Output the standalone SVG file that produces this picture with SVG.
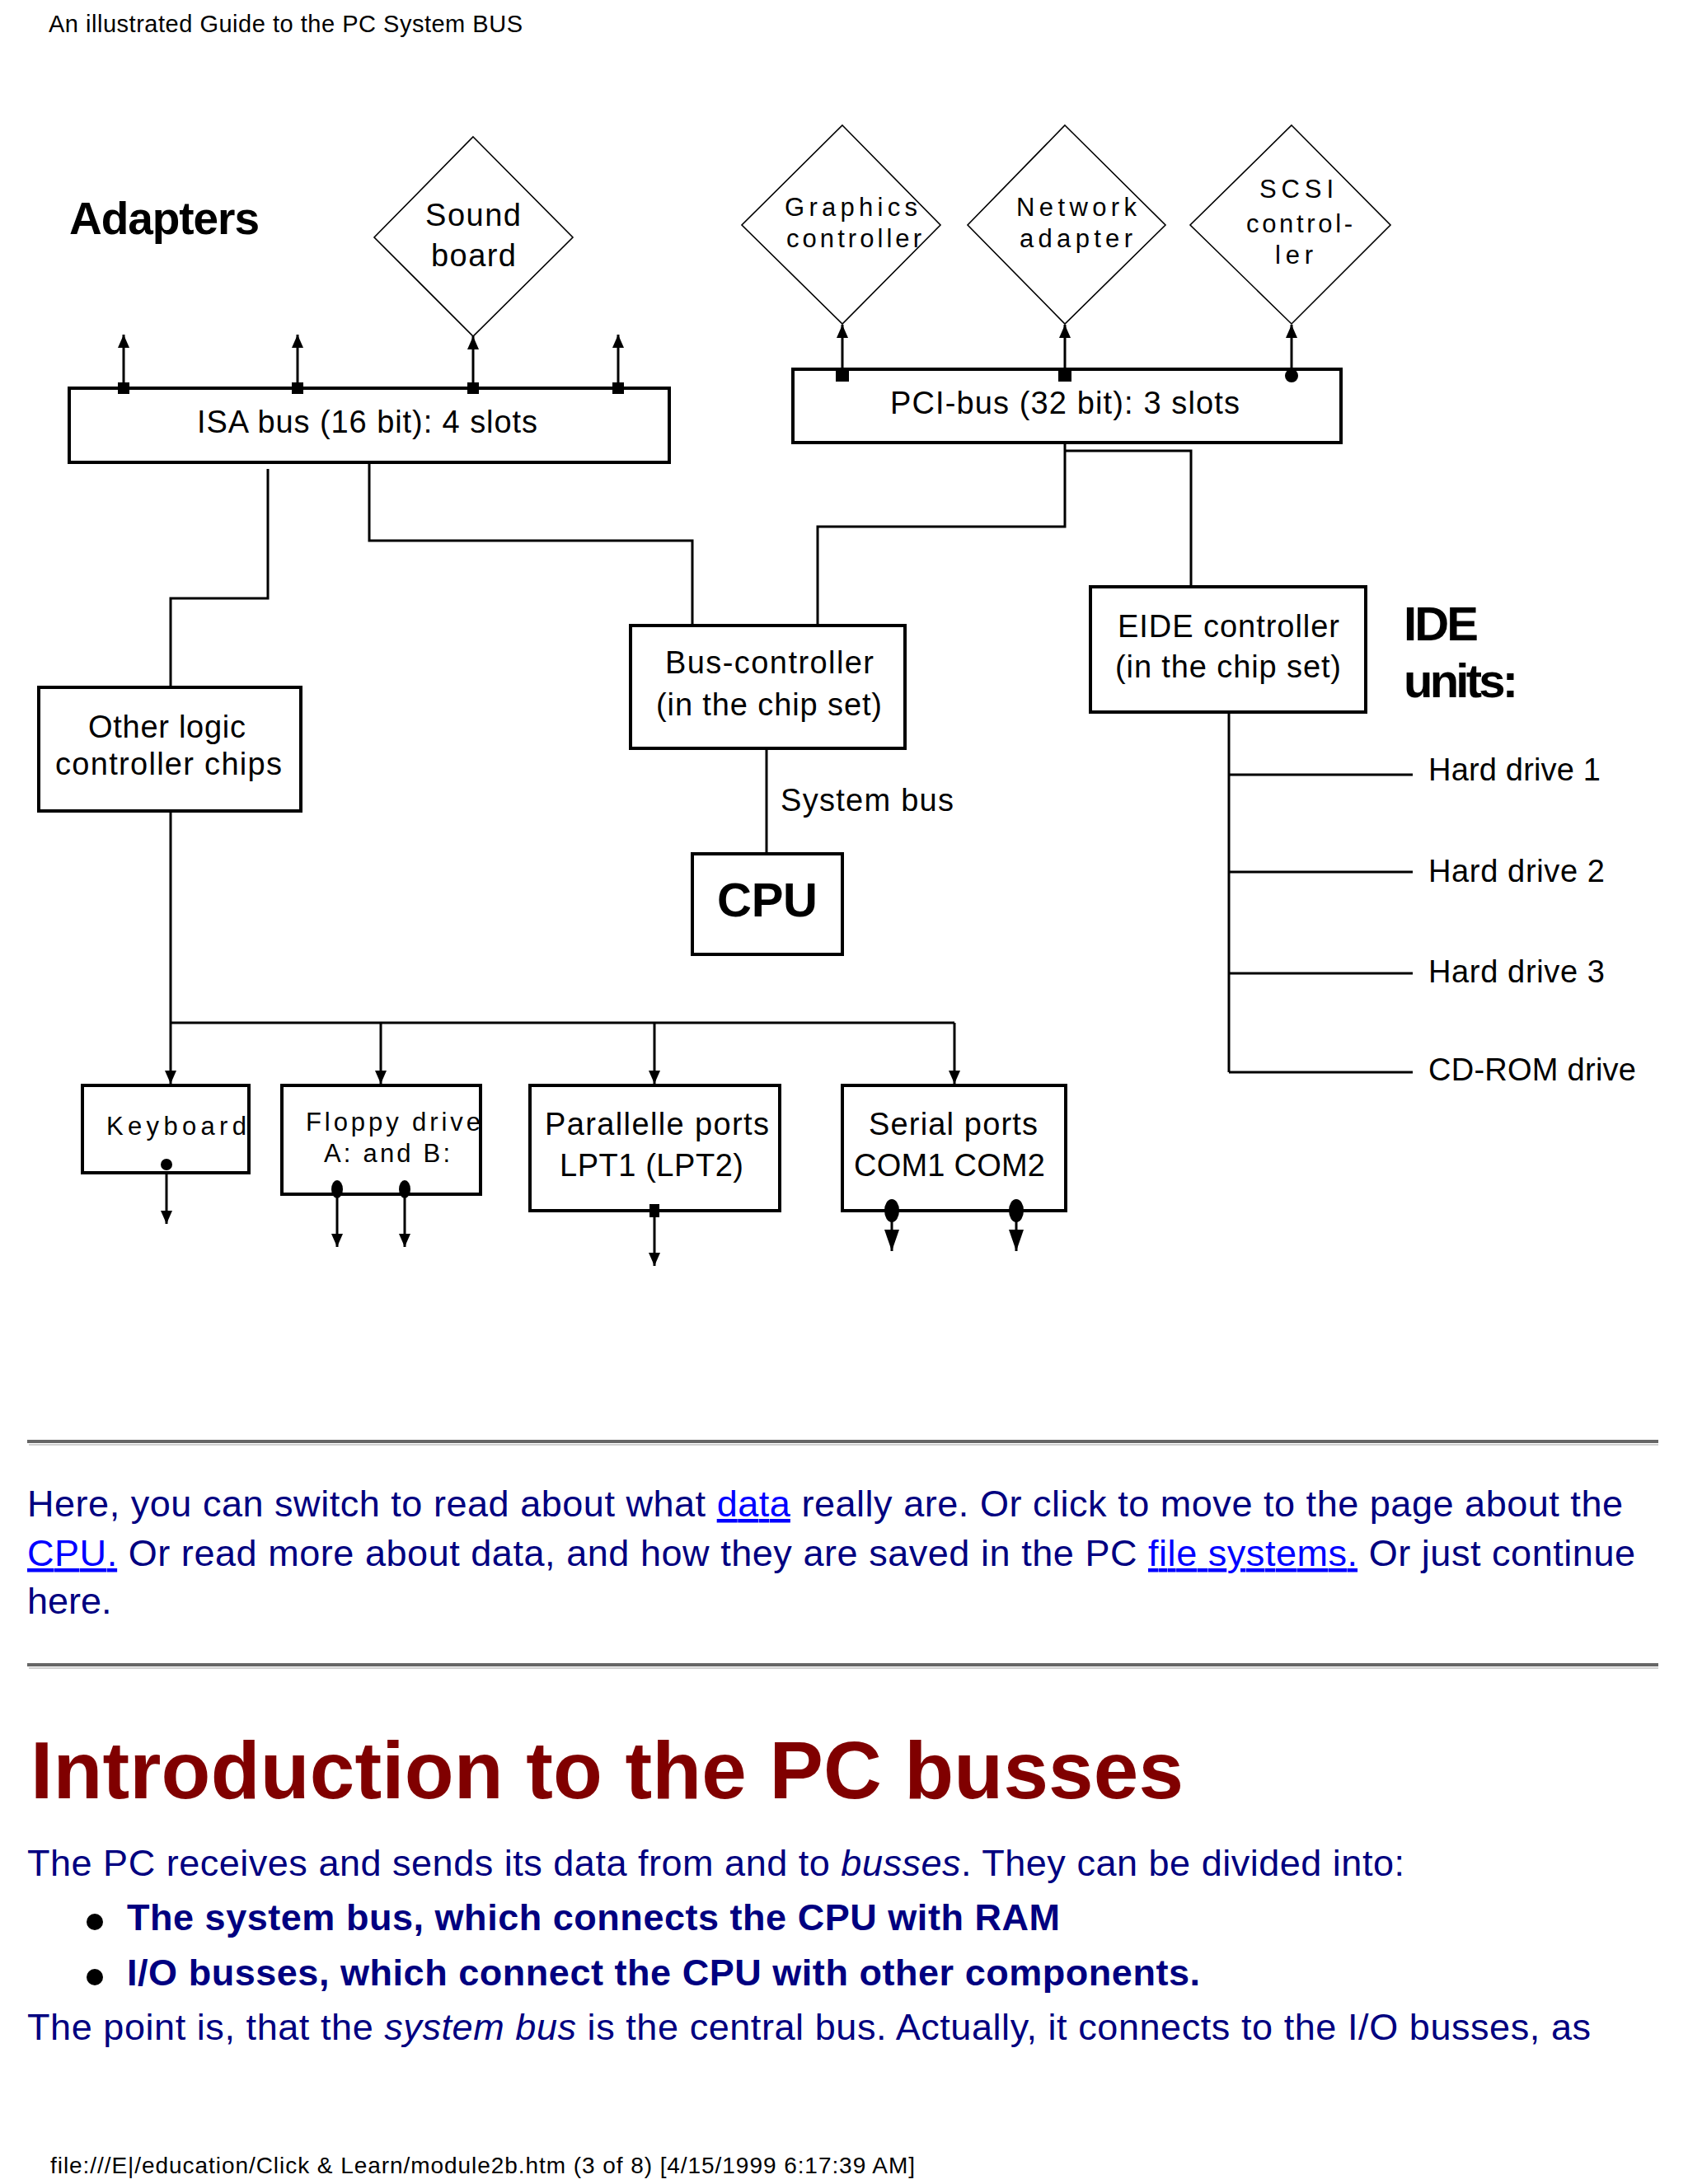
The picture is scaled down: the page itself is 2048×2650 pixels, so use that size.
<svg xmlns="http://www.w3.org/2000/svg" width="2048" height="2650" viewBox="0 0 2048 2650">
<style>
.t{font-family:"Liberation Sans",Arial,sans-serif;fill:#000}
.m{font-size:38px}
.s{font-size:31px}
.b{font-weight:bold}
.box{fill:#fff;stroke:#000;stroke-width:4}
.dia{fill:#fff;stroke:#000;stroke-width:1.6}
.ln{fill:none;stroke:#000;stroke-width:3}
.body{font-family:"Liberation Sans",Arial,sans-serif;font-size:45px;fill:#000080}
.lnk{fill:#0000ff;text-decoration:underline}
.rule{stroke:#666;stroke-width:4}
.rule2{stroke:#d0d0d0;stroke-width:2}
</style>
<defs>
<marker id="arr" viewBox="0 0 16 14" refX="16" refY="7" markerWidth="16" markerHeight="14" markerUnits="userSpaceOnUse" orient="auto"><path d="M0,0 L16,7 L0,14 z" fill="#000"/></marker>
<marker id="arrL" viewBox="0 0 26 18" refX="26" refY="9" markerWidth="26" markerHeight="18" markerUnits="userSpaceOnUse" orient="auto"><path d="M0,0 L26,9 L0,18 z" fill="#000"/></marker>
</defs>
<rect x="0" y="0" width="2048" height="2650" fill="#fff"/>

<text class="t" x="59" y="39" font-size="29" textLength="575">An illustrated Guide to the PC System BUS</text>
<text class="t b" x="84" y="284" font-size="55" textLength="231">Adapters</text>

<g id="connectors">
<line class="ln" x1="150" y1="471" x2="150" y2="406" marker-end="url(#arr)"/>
<line class="ln" x1="361" y1="471" x2="361" y2="406" marker-end="url(#arr)"/>
<line class="ln" x1="574" y1="471" x2="574" y2="408" marker-end="url(#arr)"/>
<line class="ln" x1="750" y1="471" x2="750" y2="406" marker-end="url(#arr)"/>
<line class="ln" x1="1022" y1="455" x2="1022" y2="394" marker-end="url(#arr)"/>
<line class="ln" x1="1292" y1="455" x2="1292" y2="394" marker-end="url(#arr)"/>
<line class="ln" x1="1567" y1="455" x2="1567" y2="394" marker-end="url(#arr)"/>
<polyline class="ln" points="325,569 325,726 207,726 207,834"/>
<polyline class="ln" points="448,561 448,656 840,656 840,759"/>
<polyline class="ln" points="1292,537 1292,639 992,639 992,759"/>
<polyline class="ln" points="1292,547 1445,547 1445,712"/>
<line class="ln" x1="930" y1="908" x2="930" y2="1036"/>
<line class="ln" x1="1491" y1="864" x2="1491" y2="1301"/>
<line class="ln" x1="1491" y1="940" x2="1714" y2="940"/>
<line class="ln" x1="1491" y1="1058" x2="1714" y2="1058"/>
<line class="ln" x1="1491" y1="1181" x2="1714" y2="1181"/>
<line class="ln" x1="1491" y1="1301" x2="1714" y2="1301"/>
<line class="ln" x1="207" y1="984" x2="207" y2="1241"/>
<line class="ln" x1="207" y1="1241" x2="1158" y2="1241" stroke-width="4"/>
<line class="ln" x1="207" y1="1241" x2="207" y2="1315" marker-end="url(#arr)"/>
<line class="ln" x1="462" y1="1241" x2="462" y2="1315" marker-end="url(#arr)"/>
<line class="ln" x1="794" y1="1241" x2="794" y2="1315" marker-end="url(#arr)"/>
<line class="ln" x1="1158" y1="1241" x2="1158" y2="1315" marker-end="url(#arr)"/>
<line class="ln" x1="202" y1="1413" x2="202" y2="1485" marker-end="url(#arr)"/>
<line class="ln" x1="409" y1="1443" x2="409" y2="1513" marker-end="url(#arr)"/>
<line class="ln" x1="491" y1="1443" x2="491" y2="1513" marker-end="url(#arr)"/>
<line class="ln" x1="794" y1="1469" x2="794" y2="1536" marker-end="url(#arr)"/>
<line class="ln" x1="1082" y1="1469" x2="1082" y2="1518" marker-end="url(#arrL)"/>
<line class="ln" x1="1233" y1="1469" x2="1233" y2="1518" marker-end="url(#arrL)"/>
</g>

<g id="sound-board">
<polygon class="dia" points="574,166 695,288 574,408 454,288"/>
<text class="t m" x="516" y="274" textLength="116">Sound</text>
<text class="t m" x="523" y="323" textLength="103">board</text>
</g>

<g id="isa-bus">
<rect class="box" x="84" y="471" width="728" height="90"/>
<rect x="143" y="464" width="14" height="14"/>
<rect x="354" y="464" width="14" height="14"/>
<rect x="567" y="464" width="14" height="14"/>
<rect x="743" y="464" width="14" height="14"/>
<text class="t m" x="239" y="525" textLength="413">ISA bus (16 bit): 4 slots</text>
</g>

<g id="graphics-controller">
<polygon class="dia" points="1022,152 1141,273 1022,393 900,273"/>
<text class="t s" x="952" y="262" textLength="161">Graphics</text>
<text class="t s" x="954" y="300" textLength="164">controller</text>
</g>
<g id="network-adapter">
<polygon class="dia" points="1292,152 1414,273 1292,393 1174,273"/>
<text class="t s" x="1233" y="262" textLength="146">Network</text>
<text class="t s" x="1237" y="300" textLength="137">adapter</text>
</g>
<g id="scsi-controller">
<polygon class="dia" points="1567,152 1687,273 1567,393 1444,273"/>
<text class="t s" x="1528" y="240" textLength="90">SCSI</text>
<text class="t s" x="1512" y="282" textLength="129">control-</text>
<text class="t s" x="1547" y="320" textLength="46">ler</text>
</g>

<g id="pci-bus">
<rect class="box" x="962" y="448" width="665" height="89"/>
<rect x="1014" y="448" width="16" height="15"/>
<rect x="1284" y="448" width="16" height="15"/>
<circle cx="1567" cy="456" r="8"/>
<text class="t m" x="1080" y="502" textLength="424">PCI-bus (32 bit): 3 slots</text>
</g>

<g id="other-logic">
<rect class="box" x="47" y="834" width="318" height="150"/>
<text class="t m" x="107" y="895" textLength="191">Other logic</text>
<text class="t m" x="67" y="940" textLength="275">controller chips</text>
</g>

<g id="bus-controller">
<rect class="box" x="765" y="759" width="333" height="149"/>
<text class="t m" x="807" y="817" textLength="253">Bus-controller</text>
<text class="t m" x="796" y="868" textLength="274">(in the chip set)</text>
</g>

<text class="t m" x="947" y="984" textLength="210">System bus</text>

<g id="cpu">
<rect class="box" x="840" y="1036" width="182" height="122"/>
<text class="t b" x="870" y="1112" font-size="58" textLength="122">CPU</text>
</g>

<g id="eide-controller">
<rect class="box" x="1323" y="712" width="334" height="152"/>
<text class="t m" x="1356" y="773" textLength="269">EIDE controller</text>
<text class="t m" x="1353" y="822" textLength="274">(in the chip set)</text>
</g>

<text class="t b" x="1703" y="777" font-size="58" textLength="91">IDE</text>
<text class="t b" x="1703" y="846" font-size="58" textLength="139">units:</text>

<g id="hard-drive-1"><text class="t m" x="1733" y="947" textLength="209">Hard drive 1</text></g>
<g id="hard-drive-2"><text class="t m" x="1733" y="1070" textLength="214">Hard drive 2</text></g>
<g id="hard-drive-3"><text class="t m" x="1733" y="1192" textLength="214">Hard drive 3</text></g>
<g id="cd-rom-drive"><text class="t m" x="1733" y="1311" textLength="252">CD-ROM drive</text></g>

<g id="keyboard">
<rect class="box" x="100" y="1317" width="202" height="106"/>
<circle cx="202" cy="1413" r="7"/>
<text class="t s" x="129" y="1377" textLength="170">Keyboard</text>
</g>

<g id="floppy-drive">
<rect class="box" x="342" y="1317" width="241" height="132"/>
<ellipse cx="409" cy="1443" rx="7" ry="11"/>
<ellipse cx="491" cy="1443" rx="7" ry="11"/>
<text class="t s" x="371" y="1372" textLength="212">Floppy drive</text>
<text class="t s" x="393" y="1410" textLength="153">A: and B:</text>
</g>

<g id="parallel-ports">
<rect class="box" x="643" y="1317" width="303" height="152"/>
<rect x="788" y="1461" width="12" height="16"/>
<text class="t m" x="661" y="1377" textLength="272">Parallelle ports</text>
<text class="t m" x="679" y="1427" textLength="223">LPT1 (LPT2)</text>
</g>

<g id="serial-ports">
<rect class="box" x="1022" y="1317" width="271" height="152"/>
<ellipse cx="1082" cy="1469" rx="9" ry="14"/>
<ellipse cx="1233" cy="1469" rx="9" ry="14"/>
<text class="t m" x="1054" y="1377" textLength="205">Serial ports</text>
<text class="t m" x="1036" y="1427" textLength="232">COM1 COM2</text>
</g>

<line class="rule" x1="33" y1="1749" x2="2012" y2="1749"/>
<line class="rule2" x1="35" y1="1753" x2="2012" y2="1753"/>

<text class="body" x="33" y="1840" textLength="1936">Here, you can switch to read about what <tspan class="lnk">data</tspan> really are. Or click to move to the page about the</text>
<text class="body" x="33" y="1900" textLength="1951"><tspan class="lnk">CPU.</tspan> Or read more about data, and how they are saved in the PC <tspan class="lnk">file systems.</tspan> Or just continue</text>
<text class="body" x="33" y="1958">here.</text>

<line class="rule" x1="33" y1="2020" x2="2012" y2="2020"/>
<line class="rule2" x1="35" y1="2024" x2="2012" y2="2024"/>

<text x="37" y="2182" font-family="Liberation Sans,Arial,sans-serif" font-weight="bold" font-size="98" fill="#800000" textLength="1399">Introduction to the PC busses</text>

<text class="body" x="33" y="2276" textLength="1671">The PC receives and sends its data from and to <tspan font-style="italic">busses</tspan>. They can be divided into:</text>
<circle cx="115" cy="2332" r="10" fill="#000"/>
<text class="body" x="154" y="2342" font-weight="bold" font-size="44" textLength="1132">The system bus, which connects the CPU with RAM</text>
<circle cx="115" cy="2399" r="10" fill="#000"/>
<text class="body" x="154" y="2409" font-weight="bold" font-size="44" textLength="1302">I/O busses, which connect the CPU with other components.</text>
<text class="body" x="33" y="2475" textLength="1897">The point is, that the <tspan font-style="italic">system bus</tspan> is the central bus. Actually, it connects to the I/O busses, as</text>

<text class="t" x="61" y="2637" font-size="28" textLength="1049">file:///E|/education/Click &amp; Learn/module2b.htm (3 of 8) [4/15/1999 6:17:39 AM]</text>
</svg>
